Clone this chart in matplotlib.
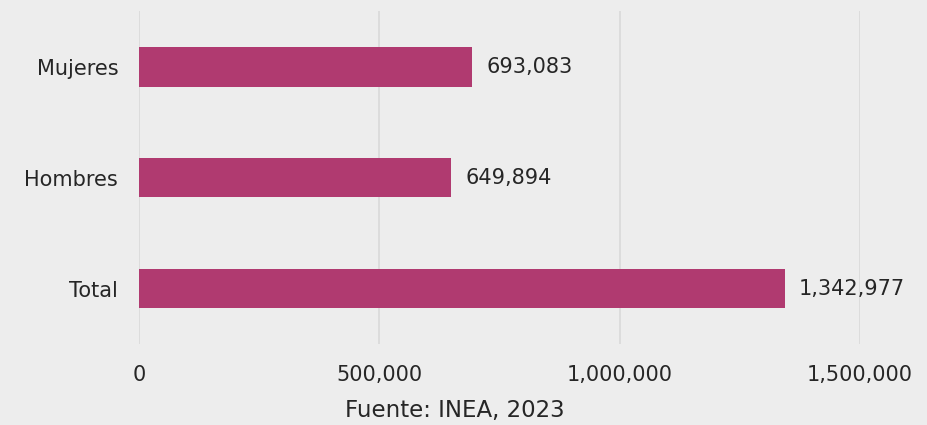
import matplotlib.pyplot as plt

# Datos (INEA, 2023)
categorias = ["Total", "Hombres", "Mujeres"]
valores = [1342977, 649894, 693083]
ticks_x = [0, 500000, 1000000, 1500000]

plt.rcParams['font.family'] = ['DejaVu Sans']

fig = plt.figure(figsize=(9.28, 4.25), dpi=100)
fig.patch.set_facecolor('#EDEDED')
ax = fig.add_axes([0.1498, 0.1906, 0.777, 0.7834])
ax.set_facecolor('#EDEDED')

pos = range(len(categorias))
ax.barh(pos, valores, height=0.36, color='#B03A70', zorder=3)

for y, v in zip(pos, valores):
    ax.annotate(f"{v:,}", (v, y), xytext=(14, 0), textcoords='offset pixels',
                va='center', ha='left', fontsize=15, color='#262626')

ax.set_xlim(0, 1500000)
ax.set_ylim(-0.5, 2.5)
ax.set_xticks(ticks_x)
ax.set_xticklabels([f"{t:,}" for t in ticks_x])
ax.set_yticks(list(pos))
ax.set_yticklabels(categorias)
ax.tick_params(axis='both', length=0, labelsize=15, colors='#262626')
ax.tick_params(axis='x', pad=15)
ax.tick_params(axis='y', pad=15)
ax.grid(axis='x', color='#D9D9D9', linewidth=1.2, zorder=0)
for s in ax.spines.values():
    s.set_visible(False)

fig.text(455 / 928, 1 - 410 / 425, "Fuente: INEA, 2023", ha='center', va='center',
         fontsize=16.5, color='#262626')

fig.savefig('out.png', dpi=100, facecolor=fig.get_facecolor())
